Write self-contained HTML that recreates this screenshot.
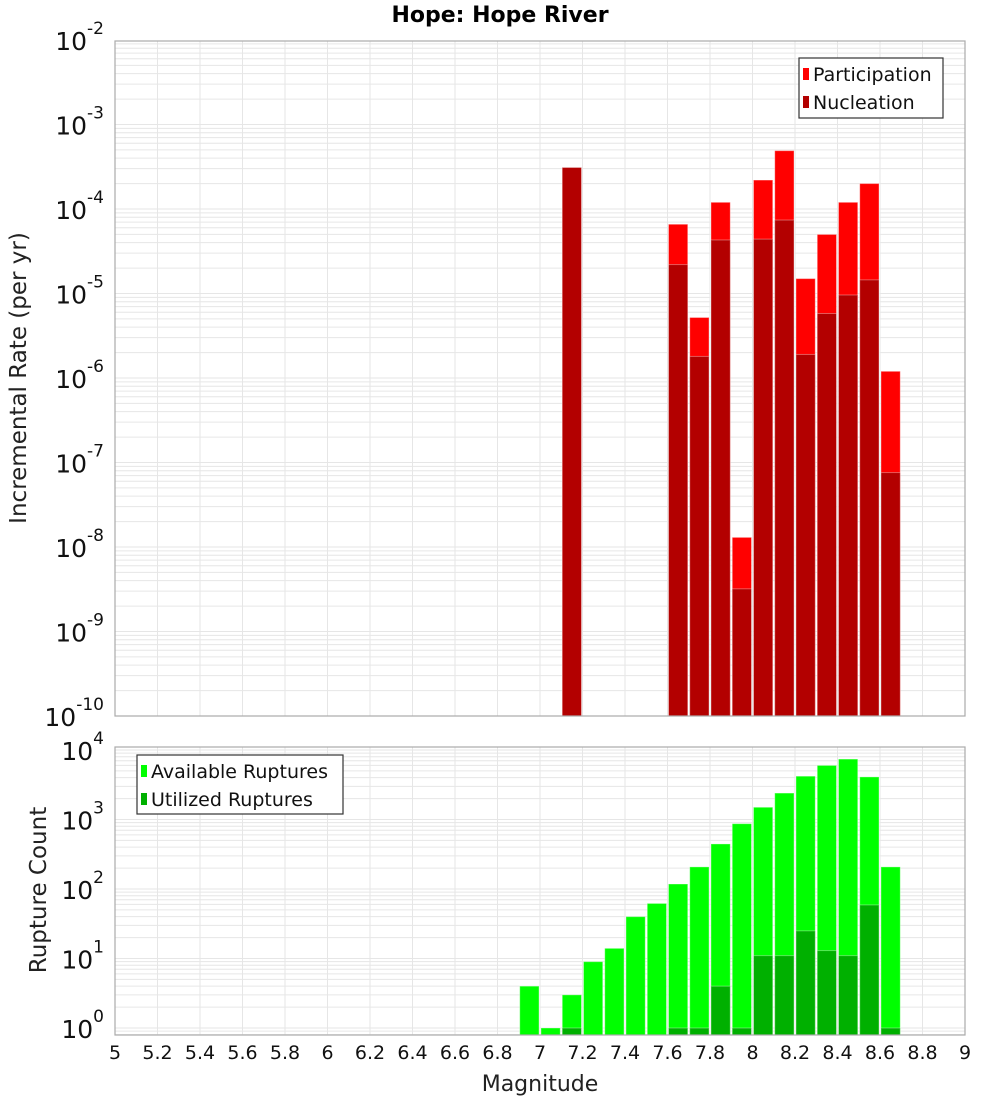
<!DOCTYPE html>
<html><head><meta charset="utf-8"><style>
body{margin:0;background:#fff;font-family:"Liberation Sans","DejaVu Sans",sans-serif}
svg text{font-family:"DejaVu Sans","Liberation Sans",sans-serif}
</style></head><body>
<svg id="c" width="1000" height="1100" xmlns="http://www.w3.org/2000/svg">
<rect width="1000" height="1100" fill="#fff"/>
<text x="500" y="22" text-anchor="middle" font-size="22" font-weight="bold">Hope: Hope River</text>
<text transform="translate(26,378) rotate(-90)" text-anchor="middle" font-size="23" fill="#222">Incremental Rate (per yr)</text>
<text transform="translate(46,890) rotate(-90)" text-anchor="middle" font-size="23" fill="#222">Rupture Count</text>
<text x="540" y="1091" text-anchor="middle" font-size="22" fill="#222">Magnitude</text>
</svg>
<script>
const magBins=[6.95,7.05,7.15,7.25,7.35,7.45,7.55,7.65,7.75,7.85,7.95,8.05,8.15,8.25,8.35,8.45,8.55,8.65];
const rateMags=[7.15,7.65,7.75,7.85,7.95,8.05,8.15,8.25,8.35,8.45,8.55,8.65];
const participation=[3.1e-4,6.6e-5,5.2e-6,1.2e-4,1.3e-8,2.2e-4,4.9e-4,1.5e-5,5.0e-5,1.2e-4,2.0e-4,1.2e-6];
const nucleation=[3.1e-4,2.2e-5,1.8e-6,4.3e-5,3.2e-9,4.4e-5,7.4e-5,1.9e-6,5.8e-6,9.6e-6,1.45e-5,7.6e-8];
const available=[4,1,3,9,14,40,62,118,208,445,870,1500,2400,4200,6000,7400,4100,208];
const utilized=[0,0,1,0,0,0,0,1,1,4,1,11,11,25,13,11,59,1];
const xTicks=["5","5.2","5.4","5.6","5.8","6","6.2","6.4","6.6","6.8","7","7.2","7.4","7.6","7.8","8","8.2","8.4","8.6","8.8","9"];
const topExps=[-10,-9,-8,-7,-6,-5,-4,-3,-2];
const botExps=[0,1,2,3,4];

const svg=document.getElementById('c');
const NS='http://www.w3.org/2000/svg';
function mk(t,a,p){const e=document.createElementNS(NS,t);for(const k in a)e.setAttribute(k,a[k]);(p||svg).appendChild(e);return e;}
const X0=115,X1=965;
const xs=m=>X0+(m-5)/4*(X1-X0);
const yTop=v=>716-(Math.log10(v)+10)*84.5;
const yBot=v=>1028-Math.log10(v)*69.5;
const BW=21.25;

function panel(name,top,bottom,yf,lo,hi){
  const g=mk('g',{});
  
  
  for(let e=lo;e<=hi;e++)for(let k=1;k<10;k++){
    const y=yf(k*Math.pow(10,e));
    if(y<top||y>bottom)continue;
    const l=mk('line',{x1:X0,x2:X1,y1:y,y2:y,stroke:'#e6e6e6','stroke-width':1},g);
    
    
  }
  xTicks.forEach(t=>{const x=xs(+t);const l=mk('line',{x1:x,x2:x,y1:top,y2:bottom,stroke:'#e6e6e6','stroke-width':1},g);
    
    });
  return g;
}
function frame(name,top,bottom){
  const r=mk('rect',{x:X0,y:top,width:X1-X0,height:bottom-top,fill:'none',stroke:'#aaa','stroke-width':1.2});
  
  
}
function bar(m,v,yf,base,fill,nm){
  const y=yf(v);const x=xs(m)-BW/2+1;
  const r=mk('rect',{x:x,y:y,width:BW-2,height:base-y,fill:fill,stroke:'#fff','stroke-opacity':0.35,'stroke-width':1});
  
  
}
function ylabel(e,y,nm){
  const t=mk('text',{x:104,y:y+10,'text-anchor':'end','font-size':25,fill:'#111'});
  
  
  t.textContent='10';
  const s=mk('tspan',{dy:-16,'font-size':17},t);s.textContent=String(e);
}
// top panel
panel('top',41,716,yTop,-10,-3);
rateMags.forEach((m,i)=>{bar(m,participation[i],yTop,716,'#ff0000','participation-bar');});
rateMags.forEach((m,i)=>{bar(m,nucleation[i],yTop,716,'#b30000','nucleation-bar');});
frame('top',41,716);
topExps.forEach(e=>ylabel(e,yTop(Math.pow(10,e)),'top-y-tick-label'));
// bottom panel
panel('bottom',747,1035,yBot,-1,4);
magBins.forEach((m,i)=>{if(available[i]>0)bar(m,available[i],yBot,1035,'#00ff00','available-bar');});
magBins.forEach((m,i)=>{if(utilized[i]>0)bar(m,utilized[i],yBot,1035,'#00b000','utilized-bar');});
frame('bottom',747,1035);
botExps.forEach(e=>ylabel(e,yBot(Math.pow(10,e)),'bottom-y-tick-label'));
xTicks.forEach(t=>{const e=mk('text',{x:xs(+t),y:1059,'text-anchor':'middle','font-size':19,fill:'#111'});
  
  
  e.textContent=t;});
// legends
function legend(x,y,w,h,items,nm){
  const g=mk('g',{});
  
  
  mk('rect',{x:x,y:y,width:w,height:h,fill:'#fff',stroke:'#333','stroke-width':1.2},g);
  items.forEach((it,i)=>{
    const cy=y+16+i*28;
    mk('rect',{x:x+4,y:cy-6,width:6,height:12,fill:it[1]},g);
    const t=mk('text',{x:x+14,y:cy+7,'font-size':19,fill:'#111'},g);
    
    
    t.textContent=it[0];
  });
}
legend(799,58,144,60,[['Participation','#ff0000'],['Nucleation','#b30000']],'top-legend');
legend(137,755,206,59,[['Available Ruptures','#00ff00'],['Utilized Ruptures','#00b000']],'bottom-legend');
</script>
</body></html>
